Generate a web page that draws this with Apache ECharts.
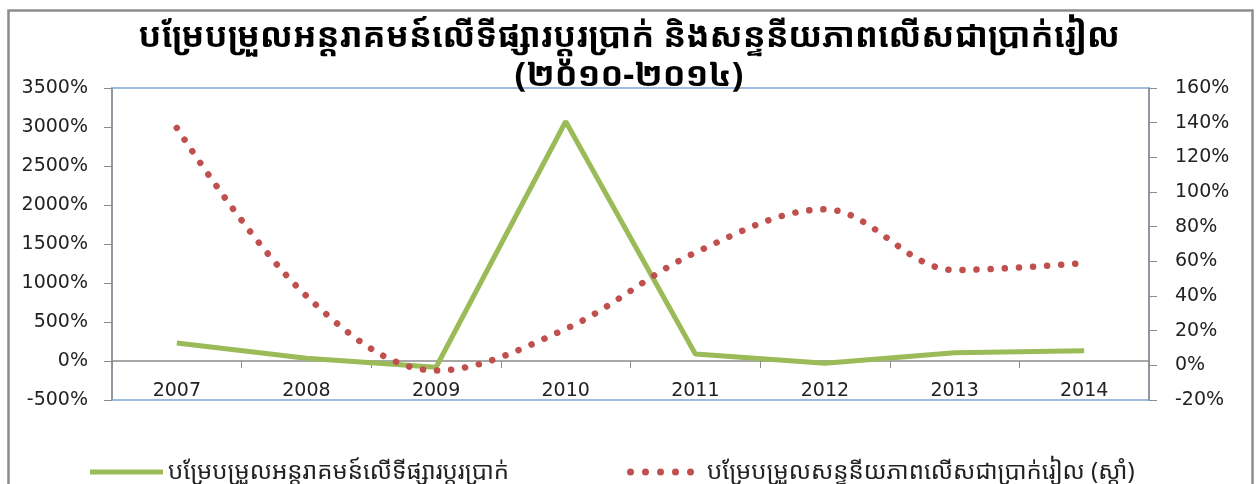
<!DOCTYPE html>
<html>
<head>
<meta charset="utf-8">
<script src="https://cdn.jsdelivr.net/npm/echarts@6/dist/echarts.min.js"></script>
<style>
html,body{margin:0;padding:0;background:#fff;}
#main{width:1258px;height:484px;}
</style>
</head>
<body>
<div id="main"></div>
<script>
var categories = ['2007','2008','2009','2010','2011','2012','2013','2014'];
var interventionChange = [230, 35, -80, 3070, 90, -30, 105, 130];
var rielLiquidityChange = [137, 40, -3, 21, 65, 90, 55, 59];
var titleLine1 = 'បម្រែបម្រួលអន្តរាគមន៍លើទីផ្សារប្តូរប្រាក់ និងសន្ទនីយភាពលើសជាប្រាក់រៀល';
var titleLine2 = '(២០១០-២០១៤)';
var seriesNames = ['បម្រែបម្រួលអន្តរាគមន៍លើទីផ្សារប្តូរប្រាក់', 'បម្រែបម្រួលសន្ទនីយភាពលើសជាប្រាក់រៀល (ស្តាំ)'];

var font = '"Noto Sans Khmer","Khmer OS","Noto Sans","DejaVu Sans",sans-serif';
var numFont = '"DejaVu Sans", sans-serif';
function pct(v) { return v + '%'; }
var dotsIcon = 'path://M0,3.5a3.5,3.5 0 1,0 7,0a3.5,3.5 0 1,0 -7,0Z' +
  'M15,3.5a3.5,3.5 0 1,0 7,0a3.5,3.5 0 1,0 -7,0Z' +
  'M30,3.5a3.5,3.5 0 1,0 7,0a3.5,3.5 0 1,0 -7,0Z' +
  'M45,3.5a3.5,3.5 0 1,0 7,0a3.5,3.5 0 1,0 -7,0Z' +
  'M60,3.5a3.5,3.5 0 1,0 7,0a3.5,3.5 0 1,0 -7,0Z';

var chart = echarts.init(document.getElementById('main'));
chart.setOption({
  animation: false,
  backgroundColor: '#fff',
  graphic: [{
    type: 'rect', left: 6, top: 8, silent: true,
    shape: {width: 1244, height: 490},
    style: {fill: 'none', stroke: '#8c8c8c', lineWidth: 2.5}
  }],
  title: {
    text: titleLine1 + '\n' + titleLine2,
    left: 'center', top: 13,
    textStyle: {fontFamily: font, fontSize: 34, fontWeight: 'bold', color: '#000', lineHeight: 39}
  },
  legend: [{
    data: [{name: seriesNames[0], icon: 'rect'}], left: 85, top: 455, itemWidth: 73, itemHeight: 5, itemGap: 8,
    textStyle: {fontFamily: font, fontSize: 24, color: '#222'}
  }, {
    data: [{name: seriesNames[1], icon: dotsIcon}], left: 622, top: 455, itemWidth: 67, itemHeight: 7,
    textStyle: {fontFamily: font, fontSize: 24, color: '#222', padding: [0, 0, 0, 8]}
  }],
  grid: {left: 112, right: 109, top: 88, bottom: 84, show: true, borderColor: '#7fa7d6', borderWidth: 1.5},
  xAxis: {
    type: 'category', data: categories,
    axisLine: {onZero: true, onZeroAxisIndex: 0, lineStyle: {color: '#8c8c8c', width: 1.5}},
    axisTick: {show: true, inside: false, length: 7, lineStyle: {color: '#8c8c8c'}},
    axisLabel: {inside: true, margin: -1, fontFamily: numFont, fontSize: 19, color: '#222'}
  },
  yAxis: [{
    type: 'value', min: -500, max: 3500, interval: 500, position: 'left',
    axisLine: {show: true, onZero: false, lineStyle: {color: '#8c8c8c', width: 1.5}},
    axisTick: {show: true, length: 8, lineStyle: {color: '#8c8c8c'}},
    splitLine: {show: false},
    axisLabel: {formatter: pct, margin: 24, fontFamily: numFont, fontSize: 19, color: '#222'}
  }, {
    type: 'value', min: -20, max: 160, interval: 20, position: 'right',
    axisLine: {show: true, onZero: false, lineStyle: {color: '#8c8c8c', width: 1.5}},
    axisTick: {show: true, length: 8, lineStyle: {color: '#8c8c8c'}},
    splitLine: {show: false},
    axisLabel: {formatter: pct, margin: 26, fontFamily: numFont, fontSize: 19, color: '#222'}
  }],
  series: [{
    name: seriesNames[0], type: 'line', yAxisIndex: 0, data: interventionChange,
    symbol: 'none', smooth: false,
    itemStyle: {color: '#9bbb59'},
    lineStyle: {color: '#9bbb59', width: 5}
  }, {
    name: seriesNames[1], type: 'line', yAxisIndex: 1, data: rielLiquidityChange,
    symbol: 'none', smooth: 0.35,
    itemStyle: {color: '#c0504d'},
    lineStyle: {color: '#c0504d', width: 6.5, type: [0.1, 14], cap: 'round'}
  }]
});
</script>
</body>
</html>
